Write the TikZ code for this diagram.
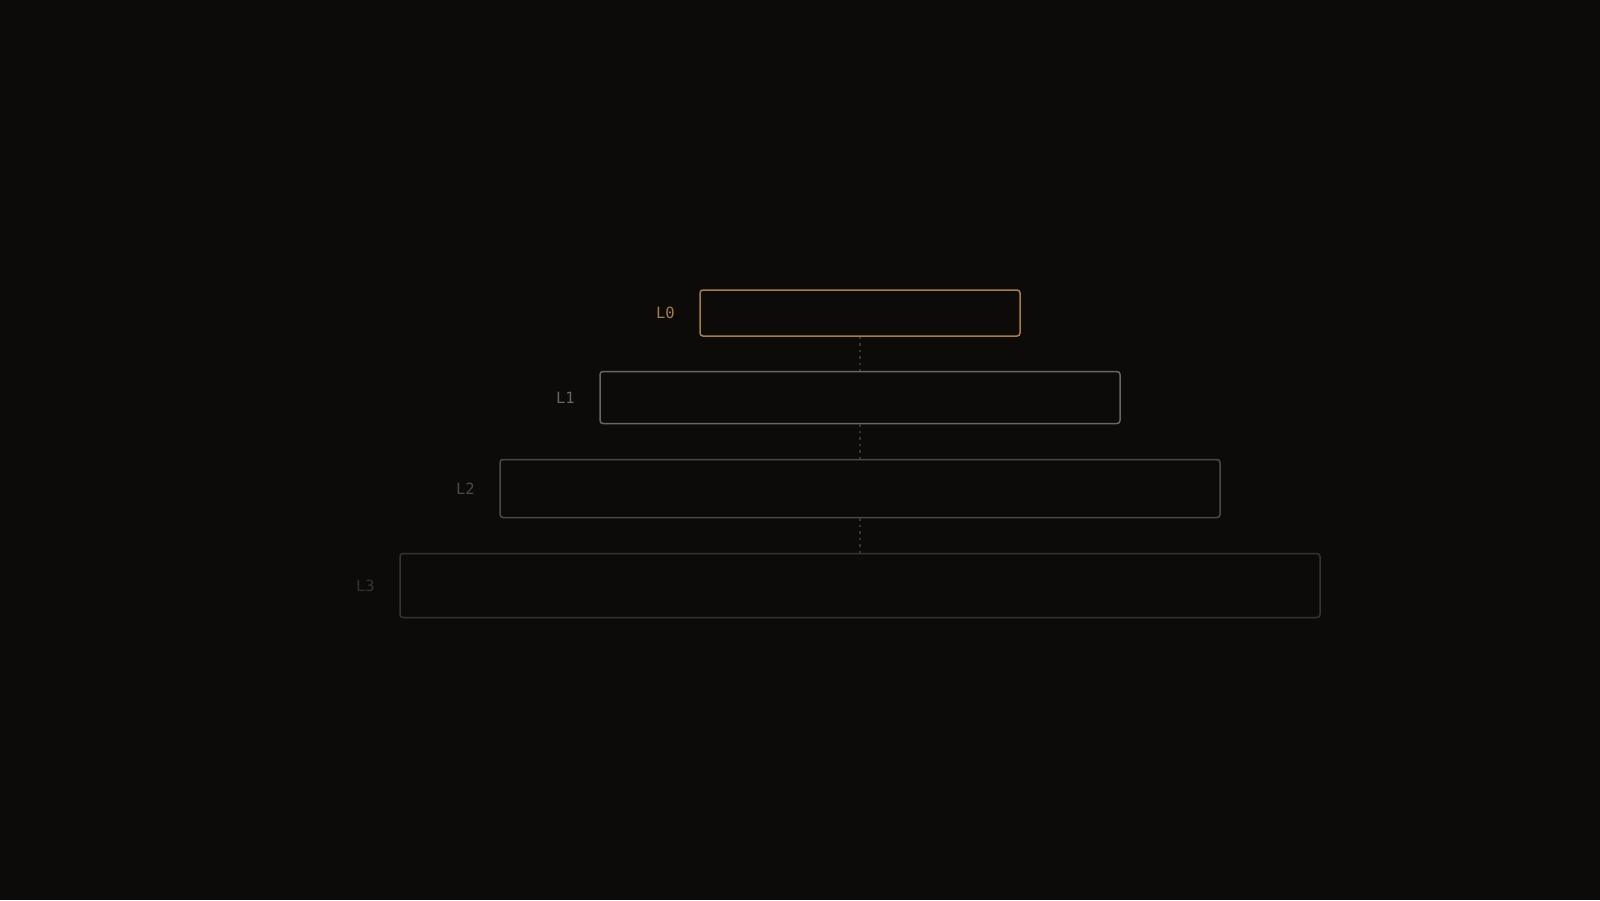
\documentclass[tikz,border=0pt]{standalone}
\usepackage{fontspec}
\setmonofont{DejaVu Sans Mono}
\usetikzlibrary{positioning}

\definecolor{bgdark}{HTML}{0C0B0A}
\definecolor{levelzero}{HTML}{A57D4B}
\definecolor{levelone}{HTML}{6A655F}
\definecolor{leveltwo}{HTML}{4E4943}
\definecolor{levelthree}{HTML}{37342F}
\definecolor{linkgray}{HTML}{38342F}

\tikzset{
  level/.style={draw=#1, line width=1.5pt, rounded corners=3pt, fill=bgdark, inner sep=0pt},
  tag/.style={text=#1, font=\fontsize{15.5}{18}\selectfont\ttfamily, anchor=east},
  link/.style={draw=linkgray, line width=1.5pt, dash pattern=on 2.5pt off 4pt}
}

\begin{document}
\begin{tikzpicture}[x=1pt, y=-1pt]
\fill[bgdark] (0,0) rectangle (1600,900);
\useasboundingbox (0,0) rectangle (1600,900);

\node[level=levelzero, minimum width=320pt, minimum height=46pt] (lz) at (860,313) {};
\node[level=levelone, minimum width=520pt, minimum height=52pt] (lo) at (860,397.5) {};
\node[level=leveltwo, minimum width=720pt, minimum height=58pt] (lt) at (860,488.5) {};
\node[level=levelthree, minimum width=920pt, minimum height=64pt] (lh) at (860,585.5) {};

\node[tag=levelzero, left=21pt of lz] {L0};
\node[tag=levelone, left=21pt of lo] {L1};
\node[tag=leveltwo, left=21pt of lt] {L2};
\node[tag=levelthree, left=21pt of lh] {L3};

\draw[link] (lz.south) -- (lo.north);
\draw[link] (lo.south) -- (lt.north);
\draw[link] (lt.south) -- (lh.north);
\end{tikzpicture}
\end{document}
